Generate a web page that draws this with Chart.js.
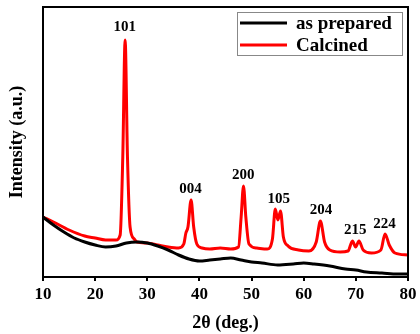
<!DOCTYPE html>
<html><head><meta charset="utf-8">
<script src="https://cdn.jsdelivr.net/npm/chart.js@4/dist/chart.umd.min.js"></script>
<style>html,body{margin:0;padding:0;background:#fff}#wrap{width:420px;height:334px}</style>
</head><body><div id="wrap"><canvas id="c" width="420" height="334"></canvas></div>
<script>
const seriesNames = ['as prepared', 'Calcined'];
const seriesColors = ['#000000', '#ff0000'];
const xTicks = [10, 20, 30, 40, 50, 60, 70, 80];

const preparedX = [10,12,14,16,18,20,22,24,26,28,30,32,34,36,38,40,42,44,46,48,50,52,55,58,60,62,65,68,70,72,75,78,80];
const preparedY = [60,52,45,39,35,32,30,31,34,35,34,31,27,22,18,16,17,18,19,17,15,14,12,13,14,13,11,8,7,5,4,3,3];

const calcinedX = [10,12,15,18,20,22,24,24.8,25.3,25.75,26.2,26.7,27.5,28,30,32,34,36,37,37.4,37.8,38.4,38.9,39.5,40.5,42,44,46,47.5,48.0,48.45,48.9,49.5,51,53,54,54.55,55.05,55.55,56.1,57,59,61,62.4,63.2,64,65,67,68.5,69.35,69.95,70.6,71.4,73,74.8,75.6,76.4,77.5,80];
const calcinedY = [60,55,47,41,39,37,37,42,120,237,120,50,38,35,34,32,30,29,33,44,50,77,50,33,29,28,29,28,30,60,91,60,33,29,28,38,68,57,66,40,31,27,26,35,56,35,27,25,26,36,30,36,27,24,27,43,32,24,22];

const peakNames = ['101','004','200','105','204','215','224'];
const peakX = [25.7, 38.3, 48.4, 55.2, 63.3, 69.9, 75.5];
const peakY = [250, 88, 102, 78, 67, 47, 53];

const FONT = "'Liberation Serif', 'Times New Roman', serif";

function pts(xs, ys){ return xs.map((x,i)=>({x:x, y:ys[i]})); }

const decor = {
  id: 'decor',
  afterDraw(chart){
    const ctx = chart.ctx, a = chart.chartArea;
    const xs = chart.scales.x, ys = chart.scales.y;
    ctx.save();
    ctx.strokeStyle = '#000'; ctx.lineWidth = 2;
    ctx.strokeRect(a.left, a.top, a.right - a.left, a.bottom - a.top);
    // peak labels
    ctx.fillStyle = '#000';
    ctx.font = 'bold 15px ' + FONT;
    ctx.textAlign = 'center'; ctx.textBaseline = 'middle';
    peakNames.forEach((n,i)=>{
      ctx.fillText(n, xs.getPixelForValue(peakX[i]), ys.getPixelForValue(peakY[i]));
    });
    // legend
    const bx = a.left + 194, by = a.top + 5, bw = 165, bh = 43;
    ctx.strokeStyle = '#888'; ctx.lineWidth = 1;
    ctx.strokeRect(bx + 0.5, by + 0.5, bw, bh);
    ctx.font = 'bold 19px ' + FONT;
    ctx.textAlign = 'left';
    seriesNames.forEach((n,i)=>{
      const yy = by + 11 + i*22;
      ctx.strokeStyle = seriesColors[i]; ctx.lineWidth = 3;
      ctx.beginPath(); ctx.moveTo(bx + 3, yy); ctx.lineTo(bx + 50, yy); ctx.stroke();
      ctx.fillStyle = '#000';
      ctx.fillText(n, bx + 59, yy + 1);
    });
    ctx.restore();
  }
};

new Chart(document.getElementById('c'), {
  type: 'scatter',
  data: {
    datasets: [
      { label: seriesNames[0], data: pts(preparedX, preparedY), showLine: true, borderColor: seriesColors[0], borderWidth: 3, pointRadius: 0, cubicInterpolationMode: 'monotone' },
      { label: seriesNames[1], data: pts(calcinedX, calcinedY), showLine: true, borderColor: seriesColors[1], borderWidth: 3, pointRadius: 0, cubicInterpolationMode: 'monotone' }
    ]
  },
  options: {
    responsive: false, animation: false,
    layout: { padding: { top: 7, right: 12, left: 0, bottom: 0 } },
    plugins: { legend: { display: false }, tooltip: { enabled: false } },
    scales: {
      x: {
        type: 'linear', min: 10, max: 80,
        afterBuildTicks: (s) => { s.ticks = xTicks.map(v => ({value: v})); },
        afterFit: (s) => { s.height = 57; },
        grid: { display: true, drawOnChartArea: false, drawTicks: true, tickLength: 4, color: '#000', lineWidth: 2 },
        border: { display: true, color: '#000', width: 2 },
        ticks: { color: '#000', padding: 3, maxRotation: 0, font: { family: FONT, size: 17, weight: 'bold' } },
        title: { display: true, text: '2θ (deg.)', color: '#000', padding: { top: 0, bottom: 0 }, font: { family: FONT, size: 18, weight: 'bold' } }
      },
      y: {
        type: 'linear', min: 0, max: 270,
        afterFit: (s) => { s.width = 43; },
        grid: { display: false },
        border: { display: true, color: '#000', width: 2 },
        ticks: { display: false },
        title: { display: true, text: 'Intensity (a.u.)', color: '#000', padding: { top: 7, bottom: 0 }, font: { family: FONT, size: 18, weight: 'bold' } }
      }
    }
  },
  plugins: [decor]
});
</script></body></html>
